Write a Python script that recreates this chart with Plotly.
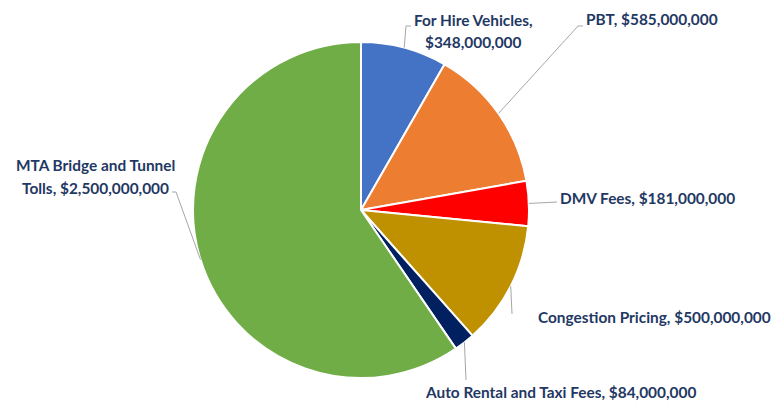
import math
import plotly.graph_objects as go

# ---- data ----
categories = ["For Hire Vehicles", "PBT", "DMV Fees", "Congestion Pricing",
              "Auto Rental and Taxi Fees", "MTA Bridge and Tunnel Tolls"]
values = [348000000, 585000000, 181000000, 500000000, 84000000, 2500000000]
colors = ["#4472C4", "#ED7D31", "#FF0000", "#BF9000", "#002060", "#70AD47"]

W, H = 777, 402
CX, CY, R = 361, 210, 168   # pie centre / radius in pixels

label_text = [f"{c}, ${v:,.0f}" for c, v in zip(categories, values)]

# label layout (pixels): first-line split, x, y per line, anchor, leader-line bend points
label_layout = [
    dict(split="For Hire Vehicles,", x=473, ys=[20, 42], anchor="center",
         path=[(406, 26), (411, 26)]),
    dict(split=None, x=584, ys=[19], anchor="left", path=[(578, 26), (583, 26)]),
    dict(split=None, x=558, ys=[198], anchor="left", path=[(557, 202)]),
    dict(split=None, x=536, ys=[317], anchor="left", path=[(512, 314)]),
    dict(split=None, x=423, ys=[392], anchor="left", path=[(466, 380)]),
    dict(split="MTA Bridge and Tunnel", x=95, ys=[165, 188], anchor="center",
         path=[(176, 192), (172, 192)]),
]

fig = go.Figure(go.Pie(
    labels=categories, values=values, sort=False, direction="clockwise",
    rotation=0, marker=dict(colors=colors, line=dict(color="white", width=2)),
    textinfo="none", hoverinfo="label+value+percent", showlegend=False,
    domain=dict(x=[(CX - R) / W, (CX + R) / W],
                y=[(H - CY - R) / H, (H - CY + R) / H]),
))

def px2paper(x, y):
    return x / W, 1 - y / H

total = sum(values)
cum = 0
shapes, annotations = [], []
font = dict(family="Lato, Open Sans, sans-serif", size=15.4, color="#1F3864")
for i, v in enumerate(values):
    mid = (cum + v / 2) / total * 2 * math.pi
    cum += v
    ex = CX + R * math.sin(mid)
    ey = CY - R * math.cos(mid)
    lay = label_layout[i]
    pts = [(ex, ey)] + lay["path"]
    d = "M " + " L ".join(f"{px2paper(x, y)[0]},{px2paper(x, y)[1]}" for x, y in pts)
    shapes.append(dict(type="path", path=d, xref="paper", yref="paper",
                       line=dict(color="#A6A6A6", width=1)))
    txt = label_text[i]
    if lay["split"]:
        first = lay["split"]
        rest = txt.replace(",", "", 1) if not first.endswith(",") else txt
        lines = [first, txt[len(first):].strip()] if first.endswith(",") \
            else [first, txt[len(first):].strip()]
    else:
        lines = [txt]
    for ln, yy in zip(lines, lay["ys"]):
        ax, ay = px2paper(lay["x"], yy)
        annotations.append(dict(text=f"<b>{ln}</b>", x=ax, y=ay, xref="paper",
                                yref="paper", xanchor=lay["anchor"], yanchor="middle",
                                showarrow=False, font=font))

fig.update_layout(width=W, height=H, margin=dict(l=0, r=0, t=0, b=0),
                  paper_bgcolor="white", plot_bgcolor="white",
                  shapes=shapes, annotations=annotations)
fig.write_html("out.html")
